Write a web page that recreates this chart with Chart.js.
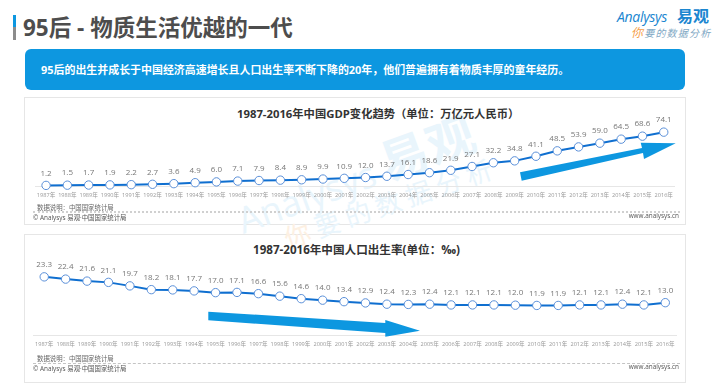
<!DOCTYPE html>
<html lang="zh-CN"><head><meta charset="utf-8">
<script src="https://cdn.jsdelivr.net/npm/chart.js@4"></script>
<style>
html,body{margin:0;padding:0;background:#fff;width:720px;height:390px;overflow:hidden;font-family:"Open Sans","Noto Sans CJK SC",sans-serif}
.a{position:absolute;white-space:nowrap}
.card{position:absolute;left:24px;width:660px;background:#fff;border:1px solid #e6e6e6;box-sizing:content-box}
canvas{position:absolute}
.dash{position:absolute;left:33px;width:647px;border-top:1px dashed #c4c4c4}
.src{font-size:6.4px;color:#666;line-height:10px}
</style></head><body>
<div class="a" style="left:13px;top:15px;width:3px;height:12px;background:#0d97e0"></div>
<div class="a" style="left:13px;top:27px;width:3px;height:13px;background:#8c8c8c"></div>
<div class="a" style="left:23px;top:12px;font-size:22.5px;font-weight:700;color:#4d4d4d;line-height:32px">95后 - 物质生活优越的一代</div>
<div class="a" style="left:617px;top:6px;font-size:14px;color:#1a86d0;font-style:italic;line-height:22px;letter-spacing:-.3px">Analysys</div>
<div class="a" style="left:677px;top:5px;font-size:16px;font-weight:700;color:#1a86d0;line-height:22px;letter-spacing:0px">易观</div>
<div class="a" style="left:631px;top:26px;font-size:10px;color:#7fa8c4;line-height:14px;letter-spacing:1.2px;font-style:italic"><span style="color:#f5a04a;font-size:12px">你</span>要的数据分析</div>
<div class="a" style="left:25px;top:49px;width:660px;height:41px;border-radius:6px;background:#0d97e0"></div>
<div class="a" style="left:41px;top:60px;font-size:10.95px;font-weight:700;color:#fff;line-height:20px">95后的出生并成长于中国经济高速增长且人口出生率不断下降的20年，他们普遍拥有着物质丰厚的童年经历。</div>

<div class="card" style="top:97px;height:126px"></div>
<div class="card" style="top:234px;height:147px"></div>

<div class="a" style="left:238px;top:192px;font-size:36px;color:#e9f5fc;line-height:50px;transform:rotate(-20deg);transform-origin:left center;letter-spacing:0">Analysys <span style="font-size:48px;font-weight:700;letter-spacing:1px">易观</span></div>
<div class="a" style="left:285px;top:223px;font-size:26px;color:#e9f5fc;line-height:32px;transform:rotate(-19deg);transform-origin:left center;letter-spacing:6px"><span style="color:#fdf0e2">你</span>要的数据分析</div>

<div class="a" style="left:237px;top:105px;font-size:11.3px;font-weight:700;color:#333;line-height:18px">1987-2016年中国GDP变化趋势（单位：万亿元人民币）</div>
<div class="a" style="left:253px;top:241px;font-size:11.6px;font-weight:700;color:#333;line-height:18px">1987-2016年中国人口出生率(单位：‰)</div>

<canvas id="gdp" style="left:24px;top:97px" width="662" height="110"></canvas>
<canvas id="birth" style="left:24px;top:236px" width="662" height="120"></canvas>

<svg class="a" style="left:0;top:0" width="720" height="390">
<polygon fill="#0d97e0" points="520,172.3 642,148 640.7,142.7 675.7,143.3 644,159 643,153 521.7,180.7"/>
<polygon fill="#0d97e0" points="208.3,311.7 385.3,323 385.3,320 420,330.7 385.3,336.7 385.3,333 208.3,320.3"/>
</svg>

<div class="a src" style="left:37px;top:203px">数据说明：中国国家统计局</div>
<div class="dash" style="top:211px;border-top:2px dotted #d0d0d0"></div>
<div class="a src" style="left:33px;top:213px;color:#555">© Analysys 易观·中国国家统计局</div>
<div class="a src" style="right:41px;top:211px;color:#555">www.analysys.cn</div>

<div class="a src" style="left:37px;top:354px">数据说明：中国国家统计局</div>
<div class="dash" style="top:363px"></div>
<div class="a src" style="left:33px;top:364px;color:#555">© Analysys 易观·中国国家统计局</div>
<div class="a src" style="right:41px;top:362px;color:#555">www.analysys.cn</div>

<script>
const years = ["1987年","1988年","1989年","1990年","1991年","1992年","1993年","1994年","1995年","1996年","1997年","1998年","1999年","2000年","2001年","2002年","2003年","2004年","2005年","2006年","2007年","2008年","2009年","2010年","2011年","2012年","2013年","2014年","2015年","2016年"];
const gdpValues = [1.2,1.5,1.7,1.9,2.2,2.7,3.6,4.9,6.0,7.1,7.9,8.4,8.9,9.9,10.9,12.0,13.7,16.1,18.6,21.9,27.1,32.2,34.8,41.1,48.5,53.9,59.0,64.5,68.6,74.1];
const birthValues = [23.3,22.4,21.6,21.1,19.7,18.2,18.1,17.7,17.0,17.1,16.6,15.6,14.6,14.0,13.4,12.9,12.4,12.3,12.4,12.1,12.1,12.1,12.0,11.9,11.9,12.1,12.1,12.4,12.1,13.0];
const FONT = '"Open Sans","Noto Sans CJK SC",sans-serif';

const valueLabels = {
  id:'valueLabels',
  afterDatasetsDraw(chart){
    const ctx = chart.ctx, ds = chart.data.datasets[0], meta = chart.getDatasetMeta(0);
    ctx.save();
    ctx.font = '8px '+FONT; ctx.fillStyle = '#777'; ctx.textAlign='center'; ctx.textBaseline='middle';
    meta.data.forEach((p,i)=>ctx.fillText(ds.data[i].toFixed(1), p.x, p.y-12));
    ctx.restore();
  }
};

function makeChart(id, values, yMax, padding){
  return new Chart(document.getElementById(id),{
    type:'line',
    data:{labels:years,datasets:[{data:values,borderColor:'#0f6fd0',borderWidth:2,tension:0,
      pointRadius:4.2,pointBackgroundColor:'#fff',pointBorderColor:'#5a8fd8',pointBorderWidth:1,clip:false}]},
    options:{responsive:false,animation:false,layout:{padding},
      plugins:{legend:{display:false},tooltip:{enabled:false},title:{display:false}},
      scales:{
        x:{offset:true,grid:{display:false,drawTicks:false},border:{color:'#e6e6e6',width:1},
           ticks:{autoSkip:false,maxRotation:0,minRotation:0,padding:6,color:'#999',font:{size:5.6,family:FONT}}},
        y:{display:false,min:0,max:yMax}
      }},
    plugins:[valueLabels]
  });
}
makeChart('gdp',gdpValues,114,{left:11.4,right:11.6,top:6,bottom:2});
makeChart('birth',birthValues,37.2,{left:9.5,right:10,top:6,bottom:2});
</script>
</body></html>
